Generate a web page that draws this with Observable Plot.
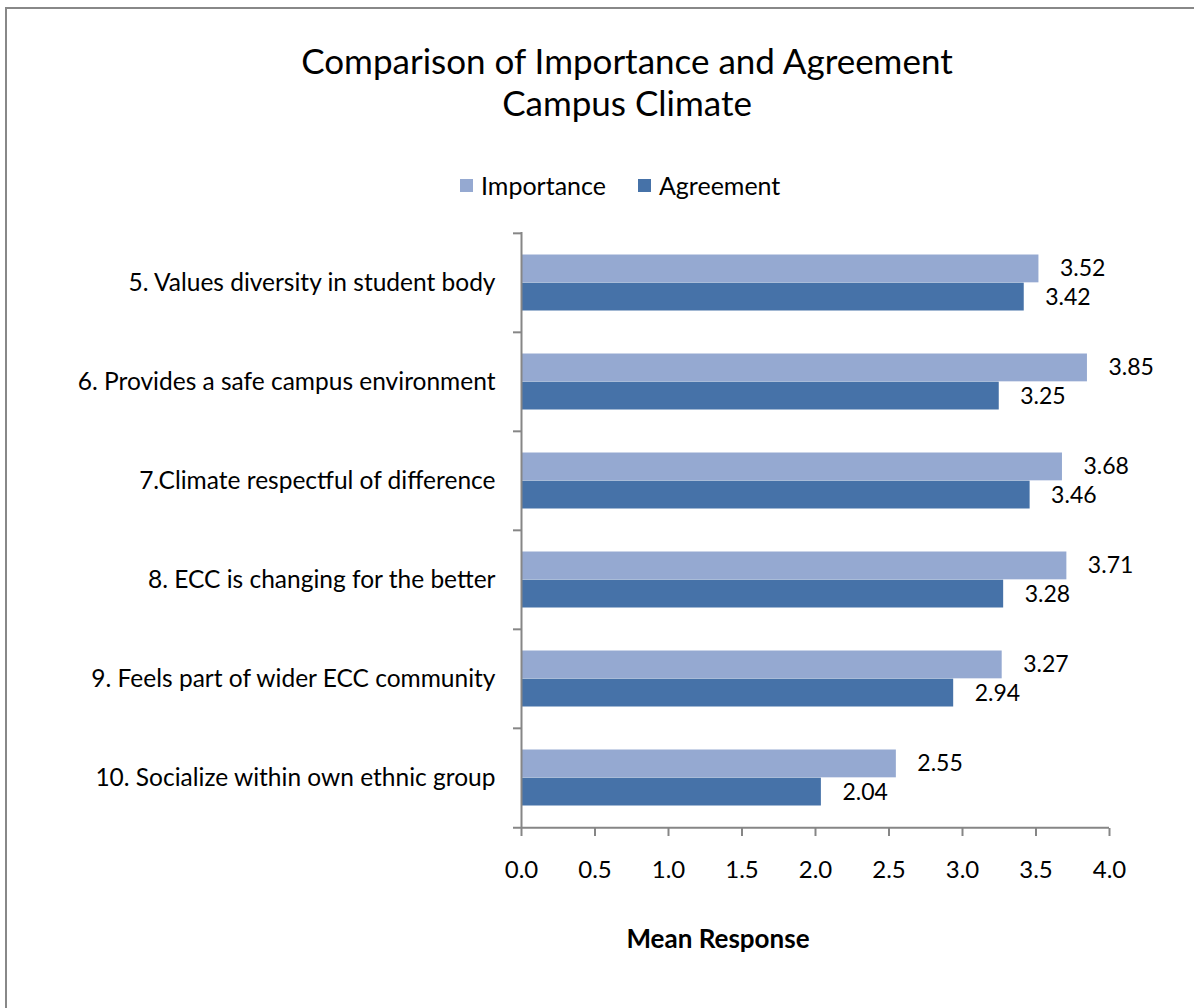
<!DOCTYPE html>
<html>
<head>
<meta charset="utf-8">
<script src="https://cdn.jsdelivr.net/npm/d3@7"></script>
<script src="https://cdn.jsdelivr.net/npm/@observablehq/plot@0.6"></script>
<style>
  html, body { margin: 0; padding: 0; background: #fff; }
  #chart {
    position: relative; width: 1194px; height: 1008px; overflow: hidden;
    font-family: Lato, "Open Sans", sans-serif; color: #000;
  }
  #frame {
    position: absolute; left: 5px; top: 7px; width: 1300px; height: 1100px;
    border-left: 2px solid #888; border-top: 2px solid #888;
  }
  #title {
    position: absolute; left: 127px; width: 1000px; top: 39px;
    text-align: center; font-size: 35px; line-height: 42px;
  }
  #legend {
    position: absolute; top: 171px; left: 460px; font-size: 25px; line-height: 28px;
    display: flex; align-items: center;
  }
  #legend .item { display: flex; align-items: center; margin-right: 32px; }
  #legend .sw { width: 13px; height: 13px; margin-right: 8px; }
  #plot { position: absolute; left: 0; top: 200px; }
  #plot svg { background: transparent !important; }
  #xlabel {
    position: absolute; top: 923px; left: 518px; width: 400px; text-align: center;
    font-size: 26px; font-weight: bold; line-height: 30px;
  }
</style>
</head>
<body>
<div id="chart">
  <div id="frame"></div>
  <div id="title">Comparison of Importance and Agreement<br>Campus Climate</div>
  <div id="legend"></div>
  <div id="plot"></div>
  <div id="xlabel">Mean Response</div>
</div>
<script>
// Survey items (top to bottom)
const categories = [
  "5. Values diversity in student body",
  "6. Provides a safe campus environment",
  "7.Climate respectful of difference",
  "8. ECC is changing for the better",
  "9. Feels part of wider ECC community",
  "10. Socialize within own ethnic group"
];
const seriesNames = ["Importance", "Agreement"];
const importance = [3.52, 3.85, 3.68, 3.71, 3.27, 2.55];
const agreement = [3.42, 3.25, 3.46, 3.28, 2.94, 2.04];
const xTicks = [0, 0.5, 1, 1.5, 2, 2.5, 3, 3.5, 4];

const colors = {Importance: "#95A9D1", Agreement: "#4672A8"};
const axisGray = "#868686";

const rows = categories.flatMap((c, i) => [
  {category: c, series: "Importance", value: importance[i]},
  {category: c, series: "Agreement", value: agreement[i]}
]);
const imp = rows.filter(d => d.series === "Importance");
const agr = rows.filter(d => d.series === "Agreement");

// Legend
const legend = document.getElementById("legend");
for (const s of seriesNames) {
  const item = document.createElement("div");
  item.className = "item";
  item.innerHTML = `<span class="sw" style="background:${colors[s]}"></span><span>${s}</span>`;
  legend.appendChild(item);
}

const width = 1194, height = 700;
const marginTop = 32, marginBottom = 72, marginLeft = 521, marginRight = 85;
const band = (height - marginTop - marginBottom) / categories.length;
const half = band / 2;
const outer = 21.5; // gap between band edge and bar pair

const family = "Lato, 'Open Sans', sans-serif";

const chart = Plot.plot({
  width, height, marginTop, marginBottom, marginLeft, marginRight,
  style: {fontFamily: family, color: "#000", background: "transparent"},
  x: {domain: [0, 4]},
  y: {domain: categories, padding: 0},
  marks: [
    Plot.barX(imp, {x: "value", y: "category", fill: colors.Importance, insetTop: outer, insetBottom: half}),
    Plot.barX(agr, {x: "value", y: "category", fill: colors.Agreement, insetTop: half, insetBottom: outer}),
    // value labels
    Plot.text(imp, {x: "value", y: "category", text: d => d3.format(".2f")(d.value), dx: 21, dy: -14, textAnchor: "start", fontFamily: family, fontSize: 23, fill: "#000"}),
    Plot.text(agr, {x: "value", y: "category", text: d => d3.format(".2f")(d.value), dx: 21, dy: 15, textAnchor: "start", fontFamily: family, fontSize: 23, fill: "#000"}),
    // category axis: labels centred in bands, ticks at band boundaries
    Plot.axisY({tickSize: 0, tickPadding: 26, label: null, fontFamily: family, fontSize: 24.5, fill: "#000"}),
    Plot.ruleY(categories, {y: d => d, dy: -half, x1: 0, x2: 0, insetLeft: -8, stroke: axisGray, strokeWidth: 2}),
    Plot.ruleX([0], {stroke: axisGray, strokeWidth: 2}),
    Plot.ruleY([categories[categories.length - 1]], {y: d => d, dy: half, insetLeft: -8, stroke: axisGray, strokeWidth: 2}),
    // value axis
    Plot.axisX({ticks: xTicks, tickFormat: d3.format(".1f"), tickSize: 8, tickPadding: 24, label: null, stroke: axisGray, strokeWidth: 2, fontFamily: family, fontSize: 24, fill: "#000"})
  ]
});
document.getElementById("plot").appendChild(chart);
</script>
</body>
</html>
